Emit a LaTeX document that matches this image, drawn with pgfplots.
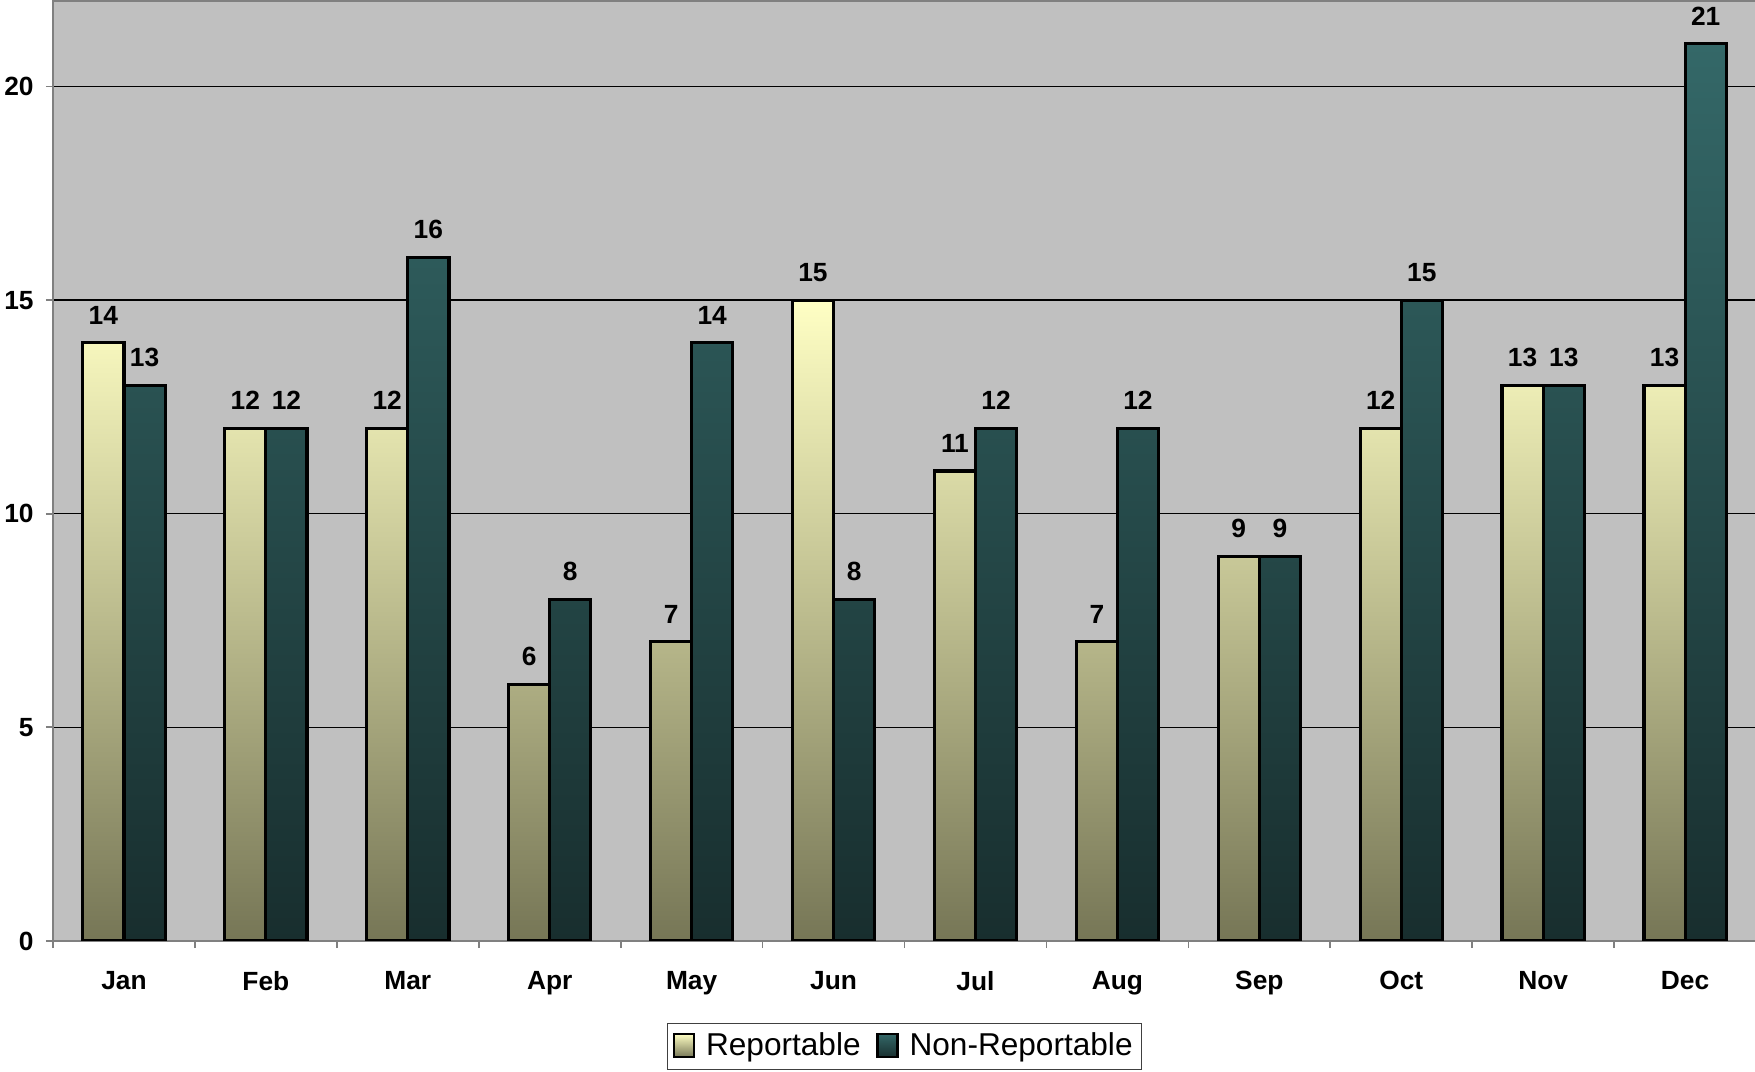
\documentclass[border=0pt]{standalone}
\usepackage{fontspec}
\setmainfont{Liberation Sans}
\usepackage{pgfplots}
\pgfplotsset{compat=1.18}
\definecolor{plotbg}{HTML}{C0C0C0}
\definecolor{reptop}{HTML}{FFFFC4}
\definecolor{repbot}{HTML}{767656}
\definecolor{nontop}{HTML}{346868}
\definecolor{nonbot}{HTML}{182E2E}
\definecolor{frame}{HTML}{808080}
\begin{document}
\begin{tikzpicture}
\useasboundingbox (0,0) rectangle (500pt,305.13pt);
\begin{axis}[
    at={(15.1pt,37.04pt)}, anchor=south west,
    scale only axis,
    width=485.2pt, height=267.8pt,
    xmin=-0.5, xmax=11.5,
    ymin=0, ymax=22,
    axis background/.style={fill=plotbg},
    axis line style={frame, line width=0.7pt},
    ytick={0,5,10,15,20},
    ymajorgrids,
    major grid style={black, line width=0.35pt},
    xtick={0,...,11},
    xticklabels={Jan,Feb,Mar,Apr,May,Jun,Jul,Aug,Sep,Oct,Nov,Dec},
    major x tick style={draw=none},
    minor xtick={-0.5,0.5,...,11.5},
    minor tick length=2pt,
    major tick length=2pt,
    tick align=outside,
    tick style={frame, line width=0.5pt},
    xtick pos=bottom, ytick pos=left,
    /pgf/number format/assume math mode=true,
    tick label style={font=\bfseries\fontsize{7.5}{9}\selectfont},
    xticklabel style={yshift=-3.1pt},
    yticklabel style={xshift=0pt},
    ybar=0pt,
    bar width=0.29,
    nodes near coords,
    every node near coord/.append style={font=\bfseries\fontsize{7.5}{9}\selectfont, black, yshift=1.5pt},
    legend columns=2,
    legend style={at={(0.5,-0.1122)}, anchor=center, draw=black!75, line width=0.4pt,
        font=\fontsize{9}{11}\selectfont, inner xsep=1.5pt, inner ysep=1.5pt,
        nodes={inner sep=1pt},
        /tikz/every even column/.append style={column sep=3.5pt}},
    legend image code/.code={\draw[#1, line width=0.6pt] (0pt,-3.1pt) rectangle (5.7pt,3.6pt);
        \path (7.7pt,0pt);},
]
\addplot[draw=black, line width=0.9pt, top color=reptop, bottom color=repbot]
    coordinates {(0,14) (1,12) (2,12) (3,6) (4,7) (5,15) (6,11) (7,7) (8,9) (9,12) (10,13) (11,13)};
\addplot[draw=black, line width=0.9pt, top color=nontop, bottom color=nonbot]
    coordinates {(0,13) (1,12) (2,16) (3,8) (4,14) (5,8) (6,12) (7,12) (8,9) (9,15) (10,13) (11,21)};
\legend{Reportable, Non-Reportable}
\end{axis}
\end{tikzpicture}
\end{document}
